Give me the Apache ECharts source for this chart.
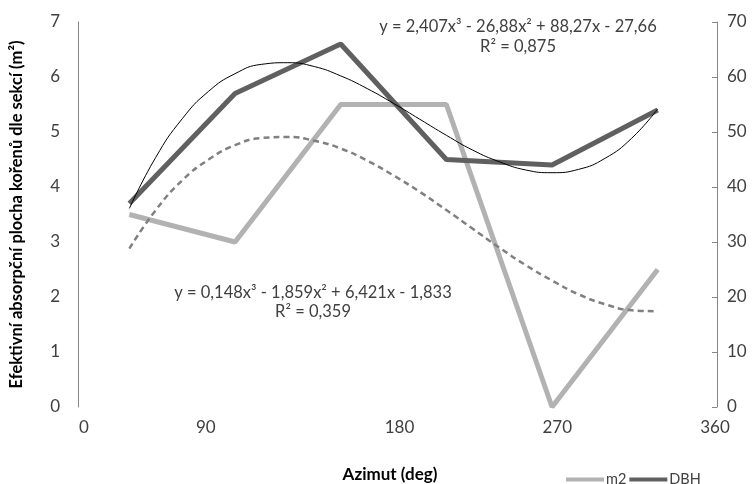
<!DOCTYPE html>
<html>
<head>
<meta charset="utf-8">
<script src="https://cdn.jsdelivr.net/npm/echarts@6/dist/echarts.min.js"></script>
<style>html,body{margin:0;padding:0;background:#fff}#c{width:756px;height:484px}</style>
</head>
<body>
<div id="c"></div>
<script>
// ---- data ----
var sectors = [1, 2, 3, 4, 5, 6];
var m2 = [3.5, 3.0, 5.5, 5.5, 0, 2.5];
var dbh = [37, 57, 66, 45, 44, 54];
var trendX = [1, 1.25, 1.5, 1.75, 2, 2.25, 2.5, 2.75, 3, 3.25, 3.5, 3.75, 4, 4.25, 4.5, 4.75, 5, 5.25, 5.5, 5.75, 6];
var m2Trend = [2.88, 3.58, 4.12, 4.50, 4.76, 4.89, 4.91, 4.84, 4.70, 4.48, 4.21, 3.91, 3.58, 3.24, 2.90, 2.58, 2.30, 2.05, 1.87, 1.76, 1.74];
var dbhTrend = [36.1, 45.4, 52.4, 57.4, 60.6, 62.3, 62.6, 61.9, 60.2, 57.9, 55.2, 52.3, 49.4, 46.7, 44.6, 43.1, 42.6, 43.2, 45.2, 48.8, 54.2];
var degTicks = [0, 90, 180, 270, 360];
var yLeftTicks = [0, 1, 2, 3, 4, 5, 6, 7];
var yRightTicks = [0, 10, 20, 30, 40, 50, 60, 70];
var eqDBH = 'y = 2,407x³ - 26,88x² + 88,27x - 27,66';
var r2DBH = 'R² = 0,875';
var eqM2 = 'y = 0,148x³ - 1,859x² + 6,421x - 1,833';
var r2M2 = 'R² = 0,359';

function pairs(xs, ys) { return xs.map(function (x, i) { return [x, ys[i]]; }); }

var FONT = 'Lato';
var TXT = '#404040';
var AX = '#868686';
var FS = 17;

var chart = echarts.init(document.getElementById('c'), null, { renderer: 'canvas' });
chart.setOption({
  animation: false,
  textStyle: { fontFamily: FONT },
  grid: [
    { left: 70, right: 39, top: 22, bottom: 77 },
    { left: 84, right: 41, top: 22, bottom: 77 }
  ],
  xAxis: [
    { type: 'value', gridIndex: 0, min: 0.514, max: 6.561, show: false },
    {
      type: 'value', gridIndex: 1, min: degTicks[0], max: degTicks[degTicks.length - 1], interval: 90,
      axisLine: { show: false }, axisTick: { show: false }, splitLine: { show: false },
      axisLabel: {
        color: TXT, fontSize: FS, fontFamily: FONT, margin: 12,
        formatter: function (v) { return v === 90 ? '{s|' + v + '}' : String(v); },
        rich: { s: { fontSize: FS, fontFamily: FONT, color: TXT, padding: [0, 72, 0, 0] } }
      }
    }
  ],
  yAxis: [
    {
      type: 'value', gridIndex: 0, min: yLeftTicks[0], max: yLeftTicks[yLeftTicks.length - 1], interval: 1,
      position: 'left',
      name: 'Efektivní absorpční plocha kořenů dle sekcí (m²)',
      nameLocation: 'middle', nameRotate: 90, nameGap: 53,
      nameTextStyle: { color: '#000', fontWeight: 'bold', fontSize: 16.5, fontFamily: FONT },
      axisLine: { show: true, lineStyle: { color: AX, width: 1 } },
      axisTick: { show: false }, splitLine: { show: false },
      axisLabel: { color: TXT, fontSize: FS, fontFamily: FONT, margin: 18 }
    },
    {
      type: 'value', gridIndex: 0, min: yRightTicks[0], max: yRightTicks[yRightTicks.length - 1], interval: 10,
      position: 'right',
      axisLine: { show: true, lineStyle: { color: AX, width: 1 } },
      axisTick: { show: true, inside: true, length: 5, lineStyle: { color: AX } },
      splitLine: { show: false },
      axisLabel: { color: TXT, fontSize: FS, fontFamily: FONT, margin: 10 }
    },
    { type: 'value', gridIndex: 1, min: 0, max: 1, show: false }
  ],
  legend: {
    left: 561, top: 467, itemWidth: 38, itemHeight: 4, itemGap: 3, icon: 'rect',
    textStyle: { color: TXT, fontSize: 14.5, fontFamily: FONT, padding: [0, 0, 0, -3] },
    data: ['m2', 'DBH']
  },
  series: [
    {
      name: 'm2', type: 'line', xAxisIndex: 0, yAxisIndex: 0, data: pairs(sectors, m2),
      symbol: 'none', lineStyle: { color: '#b2b2b2', width: 5 }, itemStyle: { color: '#b2b2b2' }, z: 2
    },
    {
      name: 'DBH', type: 'line', xAxisIndex: 0, yAxisIndex: 1, data: pairs(sectors, dbh),
      symbol: 'none', lineStyle: { color: '#606060', width: 5 }, itemStyle: { color: '#606060' }, z: 3
    },
    {
      name: 'm2 trend', type: 'line', xAxisIndex: 0, yAxisIndex: 0, data: pairs(trendX, m2Trend),
      symbol: 'none', smooth: true, lineStyle: { color: '#808080', width: 2.5, type: [6, 4] }, z: 4
    },
    {
      name: 'DBH trend', type: 'line', xAxisIndex: 0, yAxisIndex: 1, data: pairs(trendX, dbhTrend),
      symbol: 'none', smooth: true, lineStyle: { color: '#000', width: 1 }, z: 5
    }
  ],
  graphic: [
    { type: 'text', style: { text: eqDBH, x: 518, y: 27, align: 'center', verticalAlign: 'middle', fill: TXT, fontSize: 16.5, fontFamily: FONT } },
    { type: 'text', style: { text: r2DBH, x: 518, y: 47, align: 'center', verticalAlign: 'middle', fill: TXT, fontSize: 16.5, fontFamily: FONT } },
    { type: 'text', style: { text: eqM2, x: 313, y: 293, align: 'center', verticalAlign: 'middle', fill: TXT, fontSize: 16.5, fontFamily: FONT } },
    { type: 'text', style: { text: r2M2, x: 313, y: 312, align: 'center', verticalAlign: 'middle', fill: TXT, fontSize: 16.5, fontFamily: FONT } },
    { type: 'text', style: { text: 'Azimut (deg)', x: 390, y: 475, align: 'center', verticalAlign: 'middle', fill: '#000', fontSize: 17, fontWeight: 'bold', fontFamily: FONT } }
  ]
});
</script>
</body>
</html>
